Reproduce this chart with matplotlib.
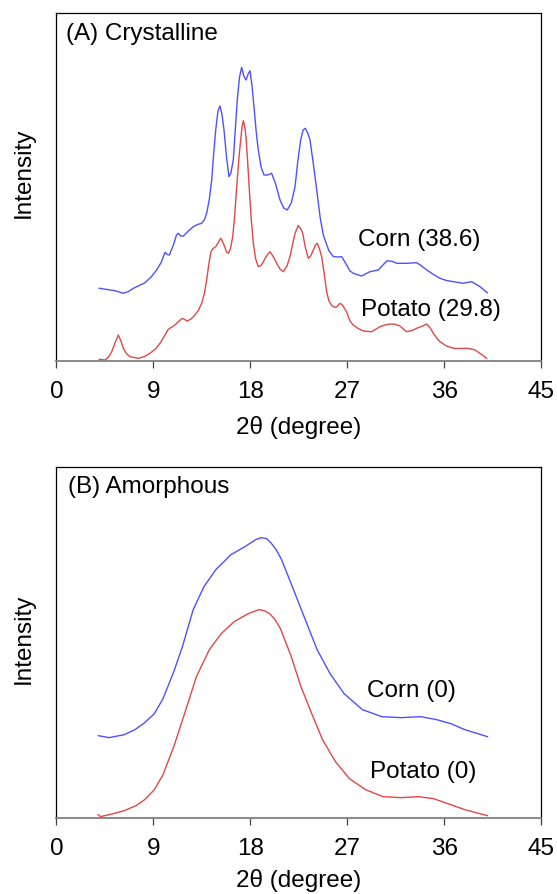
import matplotlib.pyplot as plt

plt.rcParams['font.family'] = ['Liberation Sans', 'DejaVu Sans']

# (A) crystalline starch, corn
corn_cry_x = [3.99, 4.7, 5.45, 6.22, 6.7, 7.15, 7.7, 8.23, 8.8, 9.31, 9.75, 10.09, 10.3, 10.49,
              10.9, 11.15, 11.32, 11.55, 11.79, 12.3, 12.71, 13.1, 13.49, 13.75, 13.95, 14.2,
              14.42, 14.6, 14.79, 15.0, 15.19, 15.38, 15.56, 15.8, 16.02, 16.2, 16.42, 16.6,
              16.79, 17.0, 17.2, 17.4, 17.6, 17.8, 17.97, 18.15, 18.34, 18.55, 18.74, 19.0,
              19.27, 19.6, 19.98, 20.35, 20.76, 21.1, 21.43, 21.8, 22.15, 22.4, 22.67, 22.9,
              23.1, 23.33, 23.54, 23.85, 24.16, 24.5, 24.8, 25.3, 25.7, 26.1, 26.48, 26.94,
              27.25, 27.56, 28.33, 29.1, 29.88, 30.3, 30.71, 31.2, 31.58, 32.51, 33.44, 33.9,
              34.37, 35.0, 35.6, 36.2, 36.84, 37.76, 38.2, 38.54, 38.9, 39.31, 39.99]
corn_cry_y = [72.7, 71.5, 70.3, 67.7, 69.5, 72.7, 75.5, 78.3, 84, 91, 99, 108.7, 106.5, 106,
              117, 126, 127.7, 125, 125, 130.5, 134.3, 136.5, 137.7, 141.5, 147.7, 162,
              181, 207, 231, 250, 255, 246, 231, 203, 184.3, 188, 201, 230,
              261, 284, 293.7, 285, 281, 287, 290.3, 276, 254.3, 229, 211, 194,
              186, 186, 187.7, 177, 161, 153, 151, 158, 174.3, 199, 221, 231,
              232.7, 228, 221, 197, 171, 142, 125, 110, 104.5, 104, 104.3, 96,
              90, 87.7, 85, 89.3, 91, 96, 100.3, 99.5, 97.7, 97.7, 98.3, 95,
              91, 86.5, 82.7, 80.5, 79.3, 77.7, 78.7, 79.3, 77, 74.3, 68.3]

# (A) crystalline starch, potato
pot_cry_x = [3.99, 4.52, 4.85, 5.14, 5.45, 5.75, 6.0, 6.22, 6.5, 6.84, 7.61, 8.2, 8.69, 9.2,
             9.62, 10.0, 10.39, 11.01, 11.4, 11.69, 11.9, 12.15, 12.5, 12.87, 13.2, 13.49,
             13.75, 13.95, 14.15, 14.35, 14.55, 14.79, 15.05, 15.25, 15.4, 15.56, 15.8, 15.96,
             16.15, 16.37, 16.55, 16.74, 16.95, 17.11, 17.23, 17.35, 17.47, 17.6, 17.75, 17.91,
             18.1, 18.28, 18.5, 18.74, 19.0, 19.21, 19.5, 19.83, 20.15, 20.45, 20.75, 21.06,
             21.4, 21.68, 21.95, 22.15, 22.45, 22.7, 22.86, 23.1, 23.38, 23.6, 23.85, 24.05,
             24.22, 24.42, 24.62, 24.85, 25.09, 25.3, 25.55, 25.8, 26.02, 26.32, 26.55, 26.94,
             27.25, 27.56, 28.0, 28.49, 29.26, 30.03, 30.5, 30.96, 31.4, 31.89, 32.2, 32.51,
             33.0, 33.44, 34.0, 34.37, 34.7, 34.98, 35.3, 35.6, 36.2, 36.84, 37.5, 38.08,
             38.5, 38.85, 39.4, 39.93]
pot_cry_y = [1.7, 1, 4, 9.3, 18, 26, 20, 12.7, 7.5, 4.3, 2.7, 4.5, 7.7, 12,
             17.7, 24.5, 31.7, 36, 40, 42.7, 41.5, 40, 42, 46, 51, 57.7,
             68, 81, 97, 109.3, 112.5, 114.3, 119, 122.7, 120, 116, 109, 107.7,
             112, 124.3, 145, 174.3, 204, 221, 234, 240.3, 235, 224.3, 200, 171,
             140, 117.7, 102, 94.3, 95.5, 99.3, 105, 109.3, 104, 97.7, 92, 89.3,
             95, 104.3, 118, 127.7, 135.5, 132, 127.7, 114, 102.7, 105, 111, 116,
             117.7, 112, 104.3, 88, 69, 60, 55.5, 53.8, 54, 57.7, 56, 49,
             40, 36, 32.5, 30, 29.3, 34.3, 36, 37, 36.8, 35, 32, 29.3,
             30.5, 32.7, 35, 37, 33, 27.7, 23, 19.3, 15, 12.7, 12.5, 12.7,
             12, 11, 7, 2.7]

# (B) amorphous starch, corn
corn_am_x = [3.9, 4.9, 6.3, 7.3, 8.2, 9.1, 9.9, 10.9, 11.7, 12.7, 13.7, 14.8, 16.2, 17.5,
             18.5, 19.0, 19.5, 19.9, 20.4, 20.9, 21.9, 23.1, 24.2, 25.4, 26.7, 28.4, 30.2,
             32.0, 33.8, 35.3, 36.6, 37.9, 40.0]
corn_am_y = [82, 80, 83, 88, 95, 104, 119, 146, 171, 208, 231, 248, 263, 271,
             278, 280, 279, 275, 268, 258, 231, 198, 168, 144, 124, 108, 101,
             100, 101, 98, 94, 88, 81]

# (B) amorphous starch, potato
pot_am_x = [3.9, 4.1, 5.3, 6.3, 7.4, 8.2, 9.1, 9.9, 10.9, 11.9, 13.0, 14.2, 15.3, 16.5,
            17.8, 18.8, 19.3, 19.8, 20.3, 20.8, 21.8, 22.7, 23.7, 24.7, 25.9, 27.2, 28.7,
            30.3, 32.0, 33.6, 35.0, 36.6, 37.9, 40.0]
pot_am_y = [3, 1, 4, 7, 12, 18, 28, 43, 71, 104, 141, 168, 184, 196,
            204, 208, 207, 204, 198, 189, 161, 131, 104, 78, 56, 39, 28,
            21, 20, 21, 19, 13, 8, 2]

xticks = [0, 9, 18, 27, 36, 45]
blue = '#5050ff'
red = '#e04848'
fs = 17.5

fig = plt.figure(figsize=(5.57, 8.94), dpi=100)
ax1 = fig.add_axes([0.1011, 0.5962, 0.8707, 0.3896])
ax2 = fig.add_axes([0.1011, 0.0854, 0.8707, 0.3926])


def style(ax, ytop, lpad):
    ax.set_xlim(0, 45)
    ax.set_ylim(0, ytop)
    ax.set_xticks(xticks)
    ax.set_yticks([])
    for s in ['left', 'top', 'right']:
        ax.spines[s].set_linewidth(0.9)
        ax.spines[s].set_color('black')
    ax.spines['bottom'].set_color('#808080')
    ax.spines['bottom'].set_linewidth(1.3)
    ax.tick_params(axis='x', length=5, width=0.9, color='#444444', pad=9.5, labelsize=fs)
    ax.set_xlabel('2θ (degree)', fontsize=fs, labelpad=lpad)
    ax.set_ylabel('Intensity', fontsize=fs)


ax1.plot(corn_cry_x, corn_cry_y, color=blue, lw=1.0)
ax1.plot(pot_cry_x, pot_cry_y, color=red, lw=1.0)
style(ax1, 348.3, 9.5)
ax1.yaxis.set_label_coords(-0.045, 0.54)
ax1.text(0.9, 327, '(A) Crystalline', fontsize=fs, va='center')
ax1.text(28.0, 121, 'Corn (38.6)', fontsize=fs, va='center')
ax1.text(28.3, 51, 'Potato (29.8)', fontsize=fs, va='center')

ax2.plot(corn_am_x, corn_am_y, color=blue, lw=1.0)
ax2.plot(pot_am_x, pot_am_y, color=red, lw=1.0)
style(ax2, 351, 6.5)
ax2.yaxis.set_label_coords(-0.045, 0.51)
ax2.text(1.05, 331, '(B) Amorphous', fontsize=fs, va='center')
ax2.text(28.85, 127, 'Corn (0)', fontsize=fs, va='center')
ax2.text(29.1, 46, 'Potato (0)', fontsize=fs, va='center')

fig.savefig('out.png', dpi=100)
